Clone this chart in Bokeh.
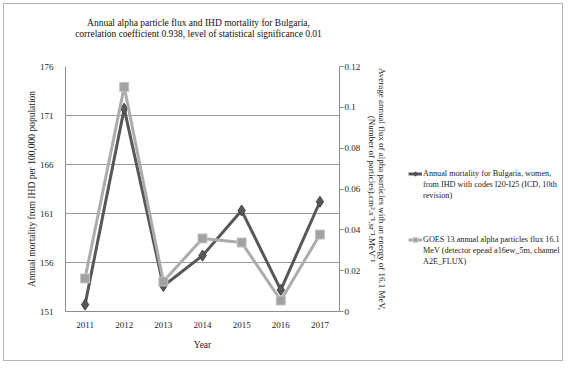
from bokeh.plotting import figure
from bokeh.layouts import row, column
from bokeh.models import (Range1d, FactorRange, LinearAxis, FixedTicker, Label,
                          Legend, LegendItem)
from bokeh.embed import file_html
from bokeh.resources import INLINE

years = ["2011", "2012", "2013", "2014", "2015", "2016", "2017"]
mortality = [151.7, 171.7, 153.6, 156.7, 161.3, 153.2, 162.2]
flux = [0.0162, 0.110, 0.0147, 0.0358, 0.0338, 0.0054, 0.0377]

mort_ticks = [151, 156, 161, 166, 171, 176]
flux_ticks = [0, 0.02, 0.04, 0.06, 0.08, 0.1, 0.12]
flux_tick_labels = ["0", "0.02", "0.04", "0.06", "0.08", "0.1", "0.12"]

title_lines = ["Annual alpha particle flux and IHD mortality for Bulgaria,",
               "correlation coefficient 0.938, level of statistical significance 0.01"]
mort_label_lines = ["Annual mortality for Bulgaria, women,",
                    "from IHD with codes I20-I25 (ICD, 10th",
                    "revision)"]
flux_label_lines = ["GOES 13 annual alpha particles flux 16.1",
                    "MeV (detector epead a16ew_5m, channel",
                    "A2E_FLUX)"]

FONT = "Liberation Serif"
DARK = "#575757"
LIGHT = "#acacac"
SQ_FILL = "#a2a2a2"
SQ_LINE = "#c4c4c4"
NAN = float("nan")

# ---------- title strip ----------
tf = figure(width=558, height=48, x_range=Range1d(0, 558), y_range=Range1d(0, 48),
            x_axis_type=None, y_axis_type=None, output_backend="svg", toolbar_location=None,
            min_border=0)
tf.outline_line_color = None
for i, t in enumerate(title_lines):
    tf.add_layout(Label(x=194, y=30 - 11 * i, text=t, text_align="center", text_baseline="middle",
                        text_font=FONT, text_font_size="9.5px", text_color="#111111"))

# ---------- main chart ----------
p = figure(width=402, height=308, x_range=FactorRange(*years), y_range=Range1d(151, 176),
           output_backend="svg", toolbar_location=None,
           min_border_left=61, min_border_right=67, min_border_top=14, min_border_bottom=49)
p.outline_line_color = None
p.extra_y_ranges = {"flux": Range1d(0, 0.12)}

p.yaxis.ticker = FixedTicker(ticks=mort_ticks)
p.yaxis.axis_label = "Annual mortality from IHD per 100,000 population"
p.xaxis.axis_label = "Year"
for ax in (p.xaxis[0], p.yaxis[0]):
    ax.axis_line_color = "#8c8c8c"
    ax.major_tick_line_color = None
    ax.major_tick_out = 0
    ax.major_tick_in = 0
    ax.minor_tick_line_color = None
    ax.major_label_text_font = FONT
    ax.major_label_text_font_size = "9px"
    ax.major_label_text_color = "#222222"
    ax.axis_label_text_font = FONT
    ax.axis_label_text_font_size = "9.5px"
    ax.axis_label_text_font_style = "normal"
    ax.axis_label_text_color = "#222222"
p.yaxis.major_label_standoff = 12
p.yaxis.axis_label_standoff = 0
p.xaxis.major_label_standoff = 10
p.xaxis.axis_label_standoff = 9

rax = LinearAxis(y_range_name="flux", ticker=FixedTicker(ticks=flux_ticks),
                 major_label_overrides={t: l for t, l in zip(flux_ticks, flux_tick_labels)})
rax.axis_label = ("Average annual flux of alpha particles with an energy of 16.1 MeV,\n"
                  "(Number of particles).cm\u00b2.s\u207b\u00b9.sr\u207b\u00b9.MeV\u207b\u00b9")
rax.axis_line_color = "#8c8c8c"
rax.major_tick_line_color = "#8c8c8c"
rax.major_tick_out = 4
rax.major_tick_in = 0
rax.minor_tick_line_color = None
rax.major_label_text_font = FONT
rax.major_label_text_font_size = "9px"
rax.major_label_text_color = "#222222"
rax.axis_label_text_font = FONT
rax.axis_label_text_font_size = "9px"
rax.axis_label_text_font_style = "normal"
rax.axis_label_text_color = "#222222"
rax.axis_label_text_line_height = 1.0
rax.major_label_standoff = 1
rax.axis_label_standoff = 4
p.add_layout(rax, "right")

p.xgrid.grid_line_color = None
p.ygrid.grid_line_color = "#9a9a9a"
p.ygrid.grid_line_width = 1

p.line(years, mortality, line_color=DARK, line_width=3)
p.scatter(years, mortality, marker="diamond", size=11, fill_color=DARK, line_color="#444444")
p.line(years, flux, y_range_name="flux", line_color=LIGHT, line_width=3)
p.scatter(years, flux, y_range_name="flux", marker="square", size=9,
          fill_color=SQ_FILL, line_color=SQ_LINE, line_width=1)

# ---------- legend panel (proxy glyphs hold no drawable data) ----------
lf = figure(width=156, height=308, x_range=Range1d(0, 1), y_range=Range1d(0, 1),
            x_axis_type=None, y_axis_type=None, output_backend="svg", toolbar_location=None,
            min_border=0)
lf.outline_line_color = None
pl1 = lf.line([NAN], [NAN], line_color=DARK, line_width=3)
pm1 = lf.scatter([NAN], [NAN], marker="diamond", size=8, fill_color=DARK, line_color="#444444")
pl2 = lf.line([NAN], [NAN], line_color=LIGHT, line_width=3)
pm2 = lf.scatter([NAN], [NAN], marker="square", size=7, fill_color=SQ_FILL, line_color=SQ_LINE)

items = [LegendItem(label=mort_label_lines[0], renderers=[pl1, pm1])]
items += [LegendItem(label=s, renderers=[]) for s in mort_label_lines[1:]]
items += [LegendItem(label=" ", renderers=[]) for _ in range(3)]
items += [LegendItem(label=flux_label_lines[0], renderers=[pl2, pm2])]
items += [LegendItem(label=s, renderers=[]) for s in flux_label_lines[1:]]

legend = Legend(items=items, location=(2, 44), border_line_color=None, background_fill_alpha=0,
                label_text_font=FONT, label_text_font_size="8.2px", label_text_color="#222222",
                glyph_width=14, glyph_height=11, label_height=11, spacing=0, padding=0, margin=0,
                label_standoff=1, label_text_line_height=1.0)
lf.add_layout(legend, "center")

layout = column(tf, row(p, lf))
layout.styles = {"border": "1px solid #b4b4b4", "margin-left": "3px", "margin-top": "3px"}

open("out.html", "w").write(file_html(layout, INLINE))
